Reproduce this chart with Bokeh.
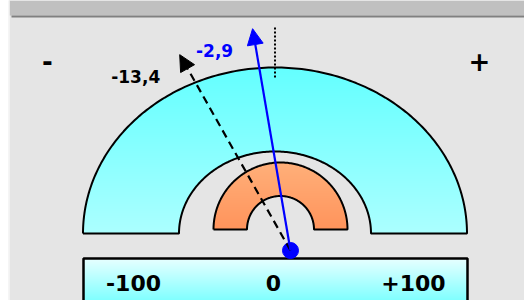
import numpy as np
from bokeh.plotting import figure
from bokeh.models import Range1d, Arrow, NormalHead, ColumnDataSource, GlobalInlineStyleSheet
from bokeh.core.properties import value
from bokeh.embed import file_html
from bokeh.resources import INLINE

# ---- data ----
scale_labels = ["-100", "0", "+100"]
scale_values = [-100, 0, 100]
needle_labels = ["-13,4", "-2,9"]
needle_values = [-13.4, -2.9]
needle_angles = [29.5, 9.7]          # degrees left of vertical, as drawn
needle_colors = ["#000000", "#0000ff"]
needle_dashes = ["8 5", "solid"]
side_labels = ["-", "+"]

# ---- layout (pixel geometry) ----
X0, W, H = 8, 516, 300
def Y(yi):
    return 300 - np.asarray(yi, dtype=float)

p = figure(width=W, height=H, output_backend="svg", toolbar_location=None,
           x_range=Range1d(X0, X0 + W), y_range=Range1d(0, H),
           min_border=0, outline_line_color=None)
p.axis.visible = False
p.grid.visible = False
p.background_fill_color = "#e5e5e5"
p.border_fill_color = "#e5e5e5"
p.stylesheets = [GlobalInlineStyleSheet(css="body { margin: 0 0 0 8px !important; }")]

# gauge geometry
cx_c, cy_c = 274.5, 233.0
rxo, ryo, rxi, ryi = 192.0, 166.0, 96.0, 82.0
cx_o, cy_o, ro, ri = 280.0, 229.0, 67.0, 33.5
bx0, bx1, by0 = 83.0, 467.0, 258.0
piv_x, piv_y = 290.0, 250.0
needle_len = 225.0

# ---- gradient fills as an RGBA image ----
xs = X0 + np.arange(W) + 0.5
yi = 300 - (np.arange(H) + 0.5)
XX, YY = np.meshgrid(xs, yi)
img = np.zeros((H, W), dtype=np.uint32)
v = img.view(dtype=np.uint8).reshape((H, W, 4))

m_c = (YY <= cy_c) & (((XX - cx_c) / rxo) ** 2 + ((YY - cy_c) / ryo) ** 2 <= 1) & \
      (((XX - cx_c) / rxi) ** 2 + ((YY - cy_c) / ryi) ** 2 >= 1)
t = np.clip((YY - (cy_c - ryo)) / ryo, 0, 1)
v[..., 0][m_c] = (100 + t * 72)[m_c]
v[..., 1][m_c] = 255
v[..., 2][m_c] = 255
v[..., 3][m_c] = 255

d = np.hypot(XX - cx_o, YY - cy_o)
m_o = (YY <= cy_o) & (d <= ro) & (d >= ri)
t = np.clip((YY - (cy_o - ro)) / ro, 0, 1)
v[..., 0][m_o] = 255
v[..., 1][m_o] = (176 - t * 28)[m_o]
v[..., 2][m_o] = (122 - t * 30)[m_o]
v[..., 3][m_o] = 255

m_b = (XX >= bx0) & (XX <= bx1) & (YY >= by0)
t = np.clip((YY - by0) / (300 - by0), 0, 1)
v[..., 0][m_b] = (232 - t * 104)[m_b]
v[..., 1][m_b] = 255
v[..., 2][m_b] = 255
v[..., 3][m_b] = 255

p.image_rgba(image=[img], x=X0, y=0, dw=W, dh=H)

# top bar
p.quad(left=9, right=524, bottom=Y(15), top=Y(0), fill_color="#c0c0c0", line_color=None)
p.quad(left=11, right=524, bottom=Y(17), top=Y(15), fill_color="#808080", line_color=None)
p.quad(left=8, right=9, bottom=0, top=300, fill_color="#ffffff", line_color=None)

# outlines
a = np.linspace(np.pi, 0, 181)
ox = np.concatenate([cx_c + rxo * np.cos(a), cx_c + rxi * np.cos(a[::-1]), [cx_c - rxo]])
oy = np.concatenate([cy_c - ryo * np.sin(a), cy_c - ryi * np.sin(a[::-1]), [cy_c]])
p.line(ox, Y(oy), line_color="black", line_width=2)
ox2 = np.concatenate([cx_o + ro * np.cos(a), cx_o + ri * np.cos(a[::-1]), [cx_o - ro]])
oy2 = np.concatenate([cy_o - ro * np.sin(a), cy_o - ri * np.sin(a[::-1]), [cy_o]])
p.line(ox2, Y(oy2), line_color="black", line_width=2)
p.line([bx0, bx0, bx1, bx1], Y([302, by0, by0, 302]), line_color="black", line_width=2.5)

# zero marker
p.line([cx_c, cx_c], Y([27, 77]), line_color="black", line_width=2, line_dash="2 2")

# scale labels
sx = [273 + 1.4 * s for s in scale_values]
p.text(x=sx, y=Y([282] * 3), text=scale_labels, text_font=value("DejaVu Sans"),
       text_font_style="bold", text_font_size=value("22px"), text_color="black",
       text_align="center", text_baseline="middle")
p.text(x=[47, 479], y=Y([60, 60]), text=side_labels, text_font=value("DejaVu Sans"),
       text_font_style="bold", text_font_size=value("26px"), text_color="black",
       text_align="center", text_baseline="middle")

# needles
label_dx = [-44, -38]
for lab, val, ang, col, dash, ldx in zip(needle_labels, needle_values, needle_angles,
                                         needle_colors, needle_dashes, label_dx):
    th = np.radians(ang)
    tx = piv_x - needle_len * np.sin(th)
    ty = piv_y - needle_len * np.cos(th)
    src = ColumnDataSource(dict(x0=[piv_x], y0=Y([piv_y]), x1=[tx], y1=Y([ty])))
    p.add_layout(Arrow(x_start="x0", y_start="y0", x_end="x1", y_end="y1", source=src,
                       line_color=col, line_width=2.2, line_dash=dash,
                       end=NormalHead(size=16, fill_color=col, line_color=col, line_width=1)))
    p.text(x=[tx + ldx], y=Y([ty + 22]), text=[lab], text_font=value("DejaVu Sans"),
           text_font_style="bold", text_font_size=value("17px"), text_color=col,
           text_align="center", text_baseline="middle")

p.scatter([piv_x], Y([piv_y]), size=16, fill_color="#0000ff", line_color="#0000ff")

open("out.html", "w").write(file_html(p, INLINE))
